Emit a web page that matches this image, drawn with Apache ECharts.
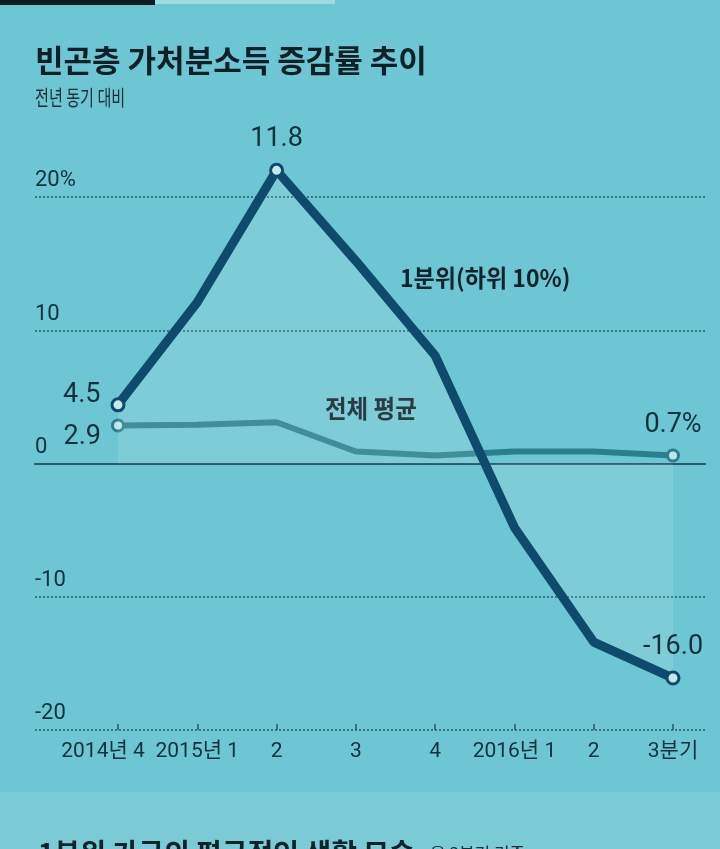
<!DOCTYPE html>
<html><head><meta charset="utf-8">
<script src="https://cdn.jsdelivr.net/npm/echarts@6/dist/echarts.min.js"></script>
<style>html,body{margin:0;padding:0;background:#6dc6d3;}#c{width:720px;height:849px;}</style>
</head><body><div id="c"></div>
<script>
const categories = ['2014년 4','2015년 1','2','3','4','2016년 1','2','3분기'];
const lowest = [4.4, 12.1, 22.0, 15.2, 8.1, -4.8, -13.4, -16.1];
const lowestLabels = ['4.5','','11.8','','','','','-16.0'];
const average = [2.85, 2.9, 3.1, 0.9, 0.6, 0.9, 0.9, 0.6];
const averageLabels = ['2.9','','','','','','','0.7%'];
const yTicks = [-20, -10, 0, 10, 20];
const title = '빈곤층 가처분소득 증감률 추이';
const subtitle = '전년 동기 대비';
const lowestName = '1분위(하위 10%)';
const averageName = '전체 평균';
const nextTitle = '1분위 가구의 평균적인 생활 모습';
const nextSub = '올 3분기 기준';

const dark = '#12303b';
const numFont = 'Roboto, "Noto Sans CJK KR", sans-serif';
const krFont = '"Noto Sans CJK KR", sans-serif';

function buildData(vals, labels, pos) {
  return vals.map((v, i) => {
    const has = labels[i] !== '';
    const p = pos[i] || {};
    return {
      value: v,
      symbol: has ? 'circle' : 'none',
      label: has ? Object.assign({show: true, formatter: labels[i]}, p) : {show: false}
    };
  });
}

const lowestPos = {
  0: {position: 'left', offset: [-2, -10], distance: 8},
  2: {position: 'top', distance: 10},
  7: {position: 'top', distance: 10}
};
const averagePos = {
  0: {position: 'left', offset: [-2, 12], distance: 8},
  7: {position: 'top', distance: 10}
};

// first category label is nudged left so it does not collide with the next one
const categoryData = categories.map((c, i) => (i === 0 ? {value: c, textStyle: {padding: [0, 30, 0, 0]}} : c));

const chart = echarts.init(document.getElementById('c'), null, {renderer: 'canvas'});
chart.setOption({
  backgroundColor: '#6dc6d3',
  animation: false,
  graphic: [
    {type: 'rect', shape: {x: 0, y: 0, width: 155, height: 5}, style: {fill: '#0c1c22'}},
    {type: 'rect', shape: {x: 155, y: 0, width: 180, height: 4}, style: {fill: '#9fd9e2'}},
    {type: 'rect', shape: {x: 0, y: 792, width: 720, height: 57}, style: {fill: 'rgba(255,255,255,0.10)'}},
    {type: 'text', x: 35, y: 45, style: {text: title, font: 'bold 31px ' + krFont, fill: '#0f1f26'}},
    {type: 'text', x: 35, y: 87, scaleX: 0.72, style: {text: subtitle, font: '21px ' + krFont, fill: '#1a2c33'}},
    {type: 'text', x: 400, y: 266, scaleX: 0.96, style: {text: lowestName, font: 'bold 24px ' + krFont, fill: '#10222a'}},
    {type: 'text', x: 325, y: 396, scaleX: 0.94, style: {text: averageName, font: 'bold 25px ' + krFont, fill: '#10222a'}},
    {type: 'text', x: 38, y: 839, style: {text: nextTitle, font: 'bold 28px ' + krFont, fill: '#10222a'}},
    {type: 'text', x: 430, y: 845, style: {text: nextSub, font: '17px ' + krFont, fill: '#1a2c33'}}
  ],
  grid: [
    {left: 35, right: 15, top: 197, bottom: 119},
    {left: 118, right: 47, top: 197, bottom: 119}
  ],
  xAxis: [
    {gridIndex: 0, type: 'value', min: 0, max: 1, show: true,
     axisLine: {show: true, onZero: true, lineStyle: {color: '#2a5866', width: 2}},
     axisTick: {show: false}, axisLabel: {show: false}, splitLine: {show: false}},
    {gridIndex: 1, type: 'category', data: categoryData, boundaryGap: false, position: 'bottom',
     axisLine: {show: false, onZero: false},
     axisTick: {show: true, inside: true, length: 6, lineStyle: {color: '#2a5866', width: 1.5}},
     axisLabel: {show: true, interval: 0, margin: 11, fontSize: 21, fontFamily: numFont, color: dark}}
  ],
  yAxis: [
    {gridIndex: 0, type: 'value', min: -20, max: 20, interval: 10,
     axisLine: {show: false}, axisTick: {show: false},
     axisLabel: {show: true, inside: true, margin: 0, verticalAlign: 'bottom', padding: [0, 0, 5, 0],
       fontSize: 22, fontFamily: numFont, color: dark,
       formatter: v => (v === yTicks[yTicks.length - 1] ? v + '%' : String(v))},
     splitLine: {show: true, lineStyle: {color: '#2a5866', type: [2, 2], width: 1.5}}},
    {gridIndex: 1, type: 'value', min: -20, max: 20, interval: 10, show: false, splitLine: {show: false}}
  ],
  series: [
    {
      name: averageName, type: 'line', xAxisIndex: 1, yAxisIndex: 1, clip: false, z: 3,
      data: buildData(average, averageLabels, averagePos),
      lineStyle: {color: '#2a7f8e', width: 6},
      itemStyle: {color: '#bfe6ec', borderColor: '#2a7f8e', borderWidth: 3},
      symbolSize: 11,
      label: {fontSize: 27, fontFamily: numFont, color: dark}
    },
    {
      name: lowestName, type: 'line', xAxisIndex: 1, yAxisIndex: 1, clip: false, z: 4,
      data: buildData(lowest, lowestLabels, lowestPos),
      lineStyle: {color: '#0e4a6c', width: 9},
      itemStyle: {color: '#c4e8ee', borderColor: '#0e4a6c', borderWidth: 3},
      symbolSize: 12,
      areaStyle: {origin: 0, color: 'rgba(255,255,255,0.16)'},
      label: {fontSize: 27, fontFamily: numFont, color: dark}
    }
  ]
});
</script></body></html>
